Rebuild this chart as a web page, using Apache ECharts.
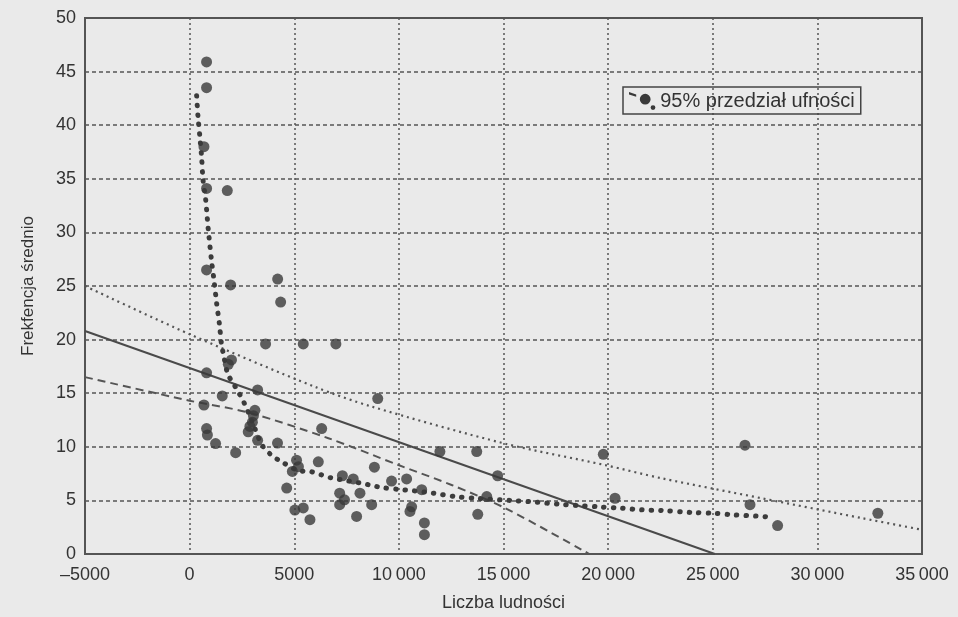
<!DOCTYPE html>
<html>
<head>
<meta charset="utf-8">
<script src="https://cdn.jsdelivr.net/npm/echarts@6/dist/echarts.min.js"></script>
<style>
  html, body { margin: 0; padding: 0; background: #eaeaea; }
  #chart { width: 958px; height: 617px; }
</style>
</head>
<body>
<div id="chart"></div>
<script>
// points: [liczba ludnosci, frekfencja]
var points = [
    [810, 45.9], [810, 43.5], [685, 38.0], [810, 34.1], [1800, 33.9], [810, 26.5],
    [1960, 25.1], [4207, 25.65], [4350, 23.5], [3630, 19.6], [5430, 19.6], [6990, 19.6],
    [1850, 17.7], [2000, 18.1], [810, 16.9], [3250, 15.3], [1560, 14.75], [8990, 14.5],
    [685, 13.9], [3120, 13.4], [3050, 12.9], [3000, 12.3], [2880, 11.9], [2800, 11.4],
    [810, 11.7], [850, 11.1], [1240, 10.3], [3250, 10.6], [4200, 10.35], [2200, 9.45],
    [6310, 11.7], [5110, 8.75], [5200, 8.15], [4910, 7.7], [6150, 8.6], [8830, 8.1],
    [7300, 7.3], [7820, 7.0], [9650, 6.8], [10370, 7.0], [7170, 5.67], [8140, 5.67],
    [7400, 5.05], [7170, 4.6], [8700, 4.6], [5030, 4.1], [5430, 4.3], [5750, 3.2],
    [7980, 3.5], [4640, 6.15], [11090, 6.0], [10610, 4.4], [10530, 3.97], [11220, 2.9],
    [11220, 1.8], [11960, 9.55], [13720, 9.55], [14720, 7.3], [14200, 5.36], [13770, 3.7],
    [19770, 9.3], [20330, 5.2], [26540, 10.15], [26780, 4.6], [28100, 2.65], [32890, 3.8]
];

var regression = [[-5000, 20.8], [25100, 0]];

var ciUpper = [
    [-5000, 25.0], [0, 20.5], [5980, 15.6], [8700, 13.75], [15060, 10.3],
    [19840, 8.3], [22560, 7.06], [27340, 5.2], [32120, 3.35], [35000, 2.26]
];

var ciLower = [
    [-5000, 16.5], [0, 14.3], [2800, 13.2], [6630, 10.8], [9980, 8.3],
    [12520, 6.44], [15060, 4.3], [19100, 0]
];

var smoothFit = [
    [335, 42.75], [400, 40.8], [490, 38.9], [574, 37], [640, 34.9], [765, 33.1],
    [890, 30.3], [1050, 27.3], [1180, 25.3], [1290, 23.4], [1420, 21.5], [1530, 19.45],
    [1610, 18.7], [1820, 16.8], [2090, 15.9], [2330, 15.1], [2570, 14.25], [3000, 12.3],
    [3450, 10.2], [3920, 9.2], [4400, 8.6], [5270, 7.75], [5750, 7.7], [6280, 7.4],
    [6760, 7.1], [8220, 6.6], [8700, 6.4], [9180, 6.2], [10130, 6.0], [10690, 5.9],
    [11650, 5.67], [12680, 5.36], [13640, 5.2], [15630, 4.96], [16590, 4.83], [17620, 4.65],
    [18580, 4.52], [19540, 4.4], [20650, 4.27], [21600, 4.12], [22560, 4.06], [24000, 3.87],
    [25030, 3.8], [26000, 3.65], [27100, 3.53], [27600, 3.47]
];

var ciName = '95% przedział ufności';

function xLabel(v) {
    if (v < 0) return '\u2013' + Math.abs(v);
    if (Math.abs(v) >= 10000) return Math.floor(v / 1000) + '\u2009000';
    return String(v);
}

var myChart = echarts.init(document.getElementById('chart'));

var option = {
    backgroundColor: '#eaeaea',
    animation: false,
    textStyle: { fontFamily: 'Liberation Sans, Arial, sans-serif' },
    grid: {
        left: 85, right: 36, top: 18, bottom: 61,
        show: true,
        borderColor: '#555',
        borderWidth: 2,
        backgroundColor: 'transparent'
    },
    legend: {
        data: [ciName],
        left: 623,
        top: 87,
        padding: [4, 6, 3, 6],
        borderColor: '#444',
        borderWidth: 1.5,
        itemWidth: 34,
        itemHeight: 18,
        itemGap: 4,
        icon: 'path://M0 0 L6 2 L6 4 L0 2 Z M9 6 A4.5 4.5 0 1 1 18 6 A4.5 4.5 0 1 1 9 6 Z M18 13 A2 2 0 1 1 22 13 A2 2 0 1 1 18 13 Z',
        textStyle: { fontSize: 20, color: '#333', padding: [0, 0, 0, -4] }
    },
    xAxis: {
        type: 'value',
        min: -5000,
        max: 35000,
        interval: 5000,
        name: 'Liczba ludności',
        nameLocation: 'middle',
        nameGap: 40,
        nameTextStyle: { fontSize: 18, color: '#333' },
        axisLine: { show: false },
        axisTick: { show: false },
        axisLabel: { fontSize: 18, color: '#333', margin: 12, formatter: xLabel },
        splitLine: { lineStyle: { color: '#555', width: 1.5, type: [2, 3] } }
    },
    yAxis: {
        type: 'value',
        min: 0,
        max: 50,
        interval: 5,
        name: 'Frekfencja średnio',
        nameLocation: 'middle',
        nameGap: 48,
        nameTextStyle: { fontSize: 17, color: '#333' },
        axisLine: { show: false },
        axisTick: { show: false },
        axisLabel: { fontSize: 18, color: '#333', margin: 9 },
        splitLine: { lineStyle: { color: '#555', width: 1.5, type: [4, 3] } }
    },
    series: [
        {
            name: 'dane',
            type: 'scatter',
            data: points,
            symbolSize: 11,
            itemStyle: { color: '#3a3a3a' },
            z: 5
        },
        {
            name: 'regresja',
            type: 'line',
            data: regression,
            showSymbol: false,
            lineStyle: { color: '#4a4a4a', width: 2 },
            z: 3
        },
        {
            name: ciName,
            type: 'line',
            data: ciUpper,
            smooth: 0.3,
            showSymbol: false,
            itemStyle: { color: '#3a3a3a' },
            lineStyle: { color: '#555', width: 2.2, type: [2, 4] },
            z: 3
        },
        {
            name: ciName,
            type: 'line',
            data: ciLower,
            smooth: 0.3,
            showSymbol: false,
            itemStyle: { color: '#3a3a3a' },
            lineStyle: { color: '#555', width: 2, type: [8, 5] },
            z: 3
        },
        {
            name: 'wygladzanie',
            type: 'line',
            data: smoothFit,
            smooth: 0.3,
            showSymbol: false,
            lineStyle: { color: '#3c3c3c', width: 5, type: [0.5, 9], cap: 'round' },
            z: 4
        }
    ]
};

if (option && typeof option === 'object') {
    myChart.setOption(option, true);
}
</script>
</body>
</html>
